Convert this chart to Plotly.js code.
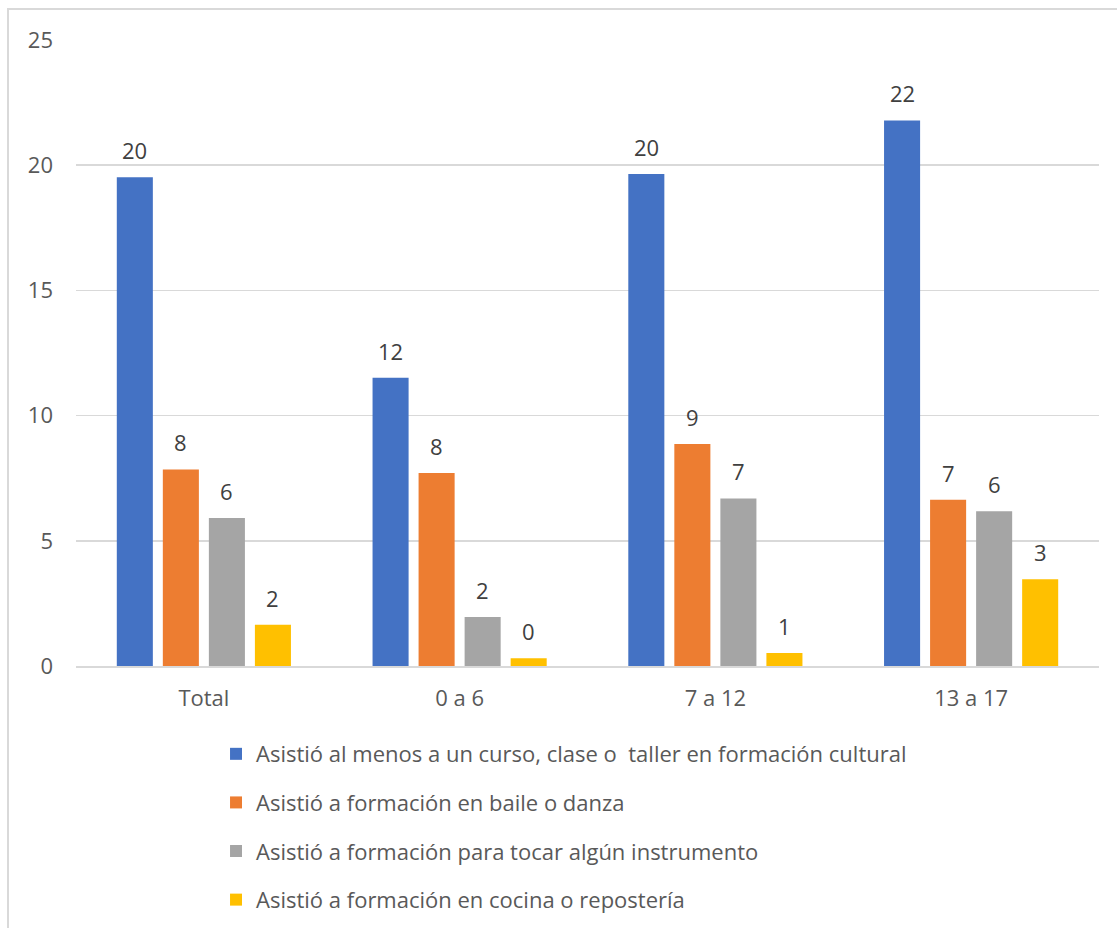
<!DOCTYPE html>
<html>
<head>
<meta charset="utf-8">
<script src="https://cdn.plot.ly/plotly-3.0.1.min.js"></script>
<style>
  html, body { margin: 0; padding: 0; background: #ffffff; }
  #wrap { position: relative; width: 1117px; height: 928px; overflow: hidden; }
  #chart { position: absolute; left: 0; top: 0; width: 1117px; height: 928px; }
  #frame { position: absolute; left: 7px; top: 8px; width: 1200px; height: 1000px;
           border-top: 2px solid #d9d9d9; border-left: 2px solid #d9d9d9; pointer-events: none; }
</style>
</head>
<body>
<div id="wrap">
  <div id="chart"></div>
  <div id="frame"></div>
</div>
<script>
const categories = ["Total", "0 a 6", "7 a 12", "13 a 17"];
const seriesNames = [
  "Asistió al menos a un curso, clase o  taller en formación cultural",
  "Asistió a formación en baile o danza",
  "Asistió a formación para tocar algún instrumento",
  "Asistió a formación en cocina o repostería"
];
const cultural = [19.52, 11.51, 19.65, 21.79];
const baile = [7.85, 7.71, 8.87, 6.64];
const instrumento = [5.91, 1.96, 6.69, 6.18];
const cocina = [1.65, 0.31, 0.52, 3.46];
const colors = ["#4472c4", "#ed7d31", "#a5a5a5", "#ffc000"];
const yTicks = [0, 5, 10, 15, 20, 25];

const seriesValues = [cultural, baile, instrumento, cocina];
const FONT = "'Open Sans', 'Noto Sans', sans-serif";
const FS = 22;

const traces = seriesValues.map((vals, i) => ({
  type: "bar",
  name: seriesNames[i].replace("  ", "&nbsp; "),
  x: categories,
  y: vals,
  marker: { color: colors[i], line: { width: 0 } },
  legendgroup: "g" + i,
  hoverinfo: "skip"
}));

const slot = 46;
const annotations = [];
seriesValues.forEach((vals, i) => {
  vals.forEach((v, j) => {
    annotations.push({
      x: categories[j], y: v, xref: "x", yref: "y",
      text: String(Math.round(v)),
      showarrow: false,
      xanchor: "center", yanchor: "middle",
      xshift: (i - 1.5) * slot,
      yshift: 27,
      font: { family: FONT, size: FS, color: "#404040" }
    });
  });
});

const layout = {
  width: 1117, height: 928,
  margin: { l: 76, r: 18, t: 40, b: 262, autoexpand: false },
  paper_bgcolor: "#ffffff", plot_bgcolor: "#ffffff",
  font: { family: FONT, color: "#595959", size: FS },
  barmode: "group",
  bargap: 0.28,
  bargroupgap: 0.217,
  showlegend: true,
  legend: {
    orientation: "v",
    xref: "container", yref: "container",
    x: 0.1934, xanchor: "left",
    y: 0.2101, yanchor: "top",
    font: { family: FONT, size: FS, color: "#595959" },
    tracegroupgap: 17,
    traceorder: "grouped",
    itemwidth: 30,
    bgcolor: "rgba(0,0,0,0)"
  },
  xaxis: {
    type: "category", automargin: false,
    showline: true, linecolor: "#d9d9d9", linewidth: 1.5,
    ticks: "", showgrid: false, zeroline: false,
    tickfont: { family: FONT, size: FS, color: "#595959" },
    ticklabelstandoff: 12
  },
  yaxis: {
    range: [0, 25], automargin: false,
    tickvals: yTicks,
    ticktext: yTicks.map(String),
    showgrid: true, gridcolor: "#d9d9d9", gridwidth: 1.5,
    zeroline: false, showline: false, ticks: "",
    tickfont: { family: FONT, size: FS, color: "#595959" },
    ticklabelstandoff: 22
  },
  annotations: annotations
};

Plotly.newPlot("chart", traces, layout, { displayModeBar: false, staticPlot: true });
</script>
</body>
</html>
